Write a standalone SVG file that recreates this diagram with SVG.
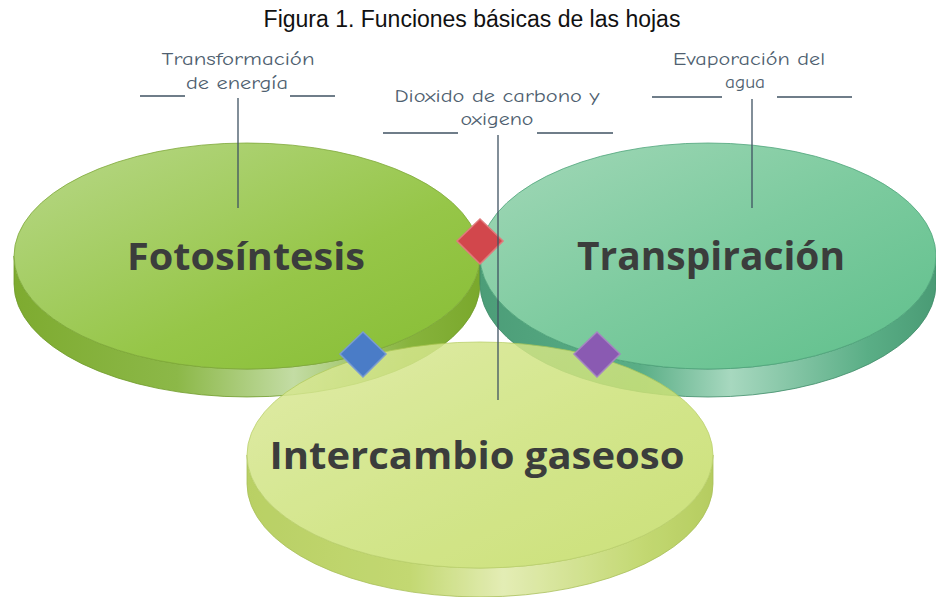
<svg xmlns="http://www.w3.org/2000/svg" width="936" height="597" viewBox="0 0 936 597">
<defs>
<style>
.title{font-family:"Liberation Sans",Arial,sans-serif;font-size:23px;fill:#111}
.lbl{font-family:"Comic Neue","Open Sans","Liberation Sans",sans-serif;font-size:17px;fill:#4f5f70}
.big{font-family:"Open Sans","Liberation Sans",sans-serif;font-weight:bold;fill:#3b3d3c}
.ln{stroke:#3f5262;stroke-width:1.3;fill:none}
.dm{stroke-width:1.5}
</style>
<linearGradient id="gTop1" x1="0" y1="0" x2="1" y2="1">
<stop offset="0" stop-color="#b9d88a"/><stop offset="0.6" stop-color="#96c648"/><stop offset="1" stop-color="#86bd33"/>
</linearGradient>
<linearGradient id="gSide1" x1="0" y1="0" x2="1" y2="0">
<stop offset="0" stop-color="#7eab30"/><stop offset="0.35" stop-color="#8cb848"/><stop offset="0.6" stop-color="#c3dca4"/><stop offset="0.85" stop-color="#87b33c"/><stop offset="1" stop-color="#7aa82c"/>
</linearGradient>
<linearGradient id="gTop2" x1="0" y1="0" x2="1" y2="1">
<stop offset="0" stop-color="#a3d8b8"/><stop offset="0.5" stop-color="#7dcb9f"/><stop offset="1" stop-color="#5ebf8b"/>
</linearGradient>
<linearGradient id="gSide2" x1="0" y1="0" x2="1" y2="0">
<stop offset="0" stop-color="#4c9d78"/><stop offset="0.35" stop-color="#5aae86"/><stop offset="0.55" stop-color="#a7d8bf"/><stop offset="0.85" stop-color="#5aae86"/><stop offset="1" stop-color="#4a9b75"/>
</linearGradient>
<linearGradient id="gTop3" x1="0" y1="0" x2="1" y2="1">
<stop offset="0" stop-color="#dbe99a"/><stop offset="0.5" stop-color="#cde27a"/><stop offset="1" stop-color="#c2dc62"/>
</linearGradient>
<linearGradient id="gSide3" x1="0" y1="0" x2="1" y2="0">
<stop offset="0" stop-color="#adc84a"/><stop offset="0.35" stop-color="#b9d25a"/><stop offset="0.55" stop-color="#dfeaa8"/><stop offset="0.85" stop-color="#b9d25a"/><stop offset="1" stop-color="#a9c445"/>
</linearGradient>
</defs>
<rect width="936" height="597" fill="#ffffff"/>
<text class="title" x="472" y="27" text-anchor="middle">Figura 1. Funciones básicas de las hojas</text>

<g id="fotosintesis">
<path d="M14,256 A233,113 0 0 0 480,256 V284 A233,113 0 0 1 14,284 Z" fill="url(#gSide1)" stroke="#6f9a2a" stroke-width="0.8"/>
<ellipse cx="247" cy="256" rx="233" ry="113" fill="url(#gTop1)" stroke="#7fa83a" stroke-width="0.8"/>
<text class="big" x="246" y="270" font-size="38" text-anchor="middle" textLength="238" lengthAdjust="spacingAndGlyphs">Fotosíntesis</text>
</g>

<g id="transpiracion">
<path d="M480,256 A228,113 0 0 0 936,256 V284 A228,113 0 0 1 480,284 Z" fill="url(#gSide2)" stroke="#3f8c68" stroke-width="0.8"/>
<ellipse cx="708" cy="256" rx="228" ry="113" fill="url(#gTop2)" stroke="#4fa57b" stroke-width="0.8"/>
<text class="big" x="711" y="270" font-size="39" text-anchor="middle" textLength="268" lengthAdjust="spacingAndGlyphs">Transpiración</text>
</g>

<g id="intercambio">
<g opacity="0.85">
<path d="M247,455 A233,113 0 0 0 713,455 V484 A233,113 0 0 1 247,484 Z" fill="url(#gSide3)" stroke="#9bb53e" stroke-width="0.8"/>
<ellipse cx="480" cy="455" rx="233" ry="113" fill="url(#gTop3)" stroke="#b0c955" stroke-width="0.8"/>
</g>
<text class="big" x="477" y="469" font-size="38" text-anchor="middle" textLength="415" lengthAdjust="spacingAndGlyphs">Intercambio gaseoso</text>
</g>

<g id="diamantes">
<polygon class="dm" points="480,219 503,241 480,264 457,241" fill="#d2474c" stroke="#e07a7c"/>
<polygon class="dm" points="363,332 386,354 363,377 340,354" fill="#4a7cc7" stroke="#7a9cd0"/>
<polygon class="dm" points="597,332 620,354 597,377 574,354" fill="#8a5ab2" stroke="#a585c0"/>
</g>

<g id="etiquetas">
<text class="lbl" x="238" y="65" text-anchor="middle" textLength="153" lengthAdjust="spacingAndGlyphs">Transformación</text>
<text class="lbl" x="237" y="89" text-anchor="middle" textLength="102" lengthAdjust="spacingAndGlyphs">de energía</text>
<text class="lbl" x="497" y="102" text-anchor="middle" textLength="205" lengthAdjust="spacingAndGlyphs">Dioxido de carbono y</text>
<text class="lbl" x="497" y="125" text-anchor="middle" textLength="73" lengthAdjust="spacingAndGlyphs">oxigeno</text>
<text class="lbl" x="749" y="65" text-anchor="middle" textLength="152" lengthAdjust="spacingAndGlyphs">Evaporación del</text>
<text class="lbl" x="745" y="88" text-anchor="middle" textLength="40" lengthAdjust="spacingAndGlyphs">agua</text>
</g>

<g id="conectores">
<line class="ln" x1="140" y1="96" x2="185" y2="96"/>
<line class="ln" x1="290" y1="96" x2="335" y2="96"/>
<line class="ln" x1="238" y1="98" x2="238" y2="208"/>
<line class="ln" x1="383" y1="133" x2="458" y2="133"/>
<line class="ln" x1="537" y1="133" x2="613" y2="133"/>
<line class="ln" x1="498" y1="135" x2="498" y2="400"/>
<line class="ln" x1="652" y1="97" x2="722" y2="97"/>
<line class="ln" x1="777" y1="97" x2="852" y2="97"/>
<line class="ln" x1="752" y1="99" x2="752" y2="208"/>
</g>
</svg>
